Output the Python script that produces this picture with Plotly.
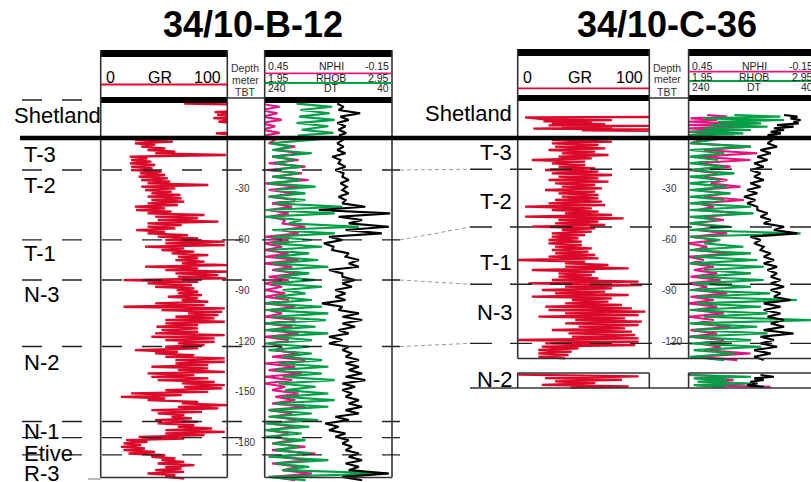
import plotly.graph_objects as go

FIG_W, FIG_H = 811, 482

# ------------------------------------------------------------------ depth frame
# depth in metres TBT, 0 = top T-3 (datum); window shown over the full page height
DEPTH_WINDOW = (-203.2, 81.5)

# ------------------------------------------------------------------ well 34/10-B-12
W1_NAME = "34/10-B-12"
W1_TOP_NAMES = ["Shetland", "T-3", "T-2", "T-1", "N-3", "N-2", "N-1", "Etive", "R-3"]
W1_TOP_DEPTHS = [22.4, 0.0, -18.9, -60.2, -83.9, -123.2, -167.5, -177.0, -187.2]
W1_DEPTH_TICKS = [-30, -60, -90, -120, -150, -180]

# GR (API) in the Shetland interval, explicit depths
W1_GR_SHET_DEPTH = [20.3, 19.8, 16.0, 15.3, 14.7, 13.6, 12.9, 11.7, 10.9, 9.6, 8.6, 3.3, 2.7, 2.0, 0.6]
W1_GR_SHET = [66, 106, 106, 90, 106, 92, 106, 89, 106, 93, 106, 106, 91, 106, 106]

# GR below the datum: low / high edge of the trace every 1.97 m from -1.18 m
W1_GR_START, W1_GR_STEP = -1.18, -1.97
W1_GR_LO = [27, 27, 32, 37, 43, 23, 24, 23, 24, 24,
            31, 30, 32, 37, 32, 35, 40, 37, 40, 37,
            27, 28, 37, 43, 45, 37, 37, 28, 37, 45,
            51, 51, 35, 48, 56, 61, 59, 64, 35, 51,
            59, 61, 18, 37, 43, 60, 61, 53, 64, 43,
            18, 48, 69, 59, 51, 51, 44, 48, 43, 40,
            51, 61, 51, 27, 43, 51, 59, 59, 40, 61,
            37, 40, 45, 64, 66, 51, 24, 16, 37, 64,
            61, 40, 45, 56, 43, 45, 61, 51, 51, 30,
            20, 18, 16, 18, 22, 40, 48, 45, 51, 43,
            37, 51]
W1_GR_HI = [57, 43, 51, 59, 99, 37, 40, 43, 41, 48,
            51, 53, 55, 85, 59, 56, 63, 64, 66, 61,
            51, 56, 82, 77, 93, 64, 59, 51, 69, 77,
            98, 98, 66, 74, 85, 77, 82, 100, 77, 100,
            93, 99, 77, 72, 74, 77, 80, 77, 85, 82,
            98, 96, 93, 90, 98, 77, 77, 77, 98, 90,
            90, 82, 77, 61, 74, 98, 98, 85, 85, 98,
            74, 85, 90, 98, 96, 85, 64, 51, 77, 100,
            93, 80, 66, 72, 77, 74, 88, 98, 82, 66,
            37, 32, 35, 43, 51, 59, 66, 74, 64, 66,
            59, 66]

# NPHI (v/v), RHOB (g/cc), DT (us/ft): Shetland samples at explicit depths
W1_SHET_DEPTH = [20.3, 16.5, 12.6, 8.8, 4.9, 1.5]
W1_NPHI_SHET_A = [0.47, 0.47, 0.46, 0.47, 0.46, 0.45]
W1_NPHI_SHET_B = [0.38, 0.39, 0.37, 0.40, 0.38, 0.39]
W1_RHOB_SHET_A = [2.20, 2.23, 2.22, 2.20, 2.24, 2.21]
W1_RHOB_SHET_B = [2.48, 2.46, 2.50, 2.45, 2.49, 2.44]
W1_DT_SHET_A = [126, 124, 121, 126, 124, 123]
W1_DT_SHET_B = [116, 90, 108, 113, 112, 114]

# below the datum, every 3.94 m from -3.15 m (two edges of each trace)
W1_LOG_START, W1_LOG_STEP = -3.15, -3.94
W1_NPHI_A = [.431, .40, .415, .431, .439, .415, .447, .431, .431, .415,
             .431, .431, .368, .368, .447, .45, .45, .447, .45, .415,
             .431, .45, .45, .45, .45, .431, .45, .45, .431, .45,
             .431, .40, .415, .45, .431, .45, .45, .415, .40, .415,
             .431, .415, .431, .431, .40, .415, .415, .384, .415, .368,
             .415]
W1_NPHI_B = [.306, .274, .29, .258, .274, .243, .29, .306, .306, .321,
             .337, .353, .258, .29, .337, .368, .337, .29, .321, .29,
             .337, .368, .353, .337, .306, .368, .306, .321, .29, .337,
             .368, .29, .258, .306, .274, .321, .353, .29, .306, .258,
             .321, .274, .306, .337, .321, .258, .211, .243, .29, .227,
             .306]
W1_RHOB_A = [1.995, 2.01, 2.01, 2.03, 2.01, 2.01, 1.98, 2.03, 1.98, 2.03,
             1.955, 1.95, 2.14, 2.01, 2.01, 2.01, 1.98, 2.03, 2.01, 2.03,
             2.06, 2.01, 2.09, 2.03, 1.955, 1.955, 2.01, 1.955, 1.955, 2.01,
             1.955, 1.98, 2.09, 2.06, 2.03, 2.09, 2.06, 2.11, 2.09, 2.03,
             1.98, 1.98, 1.955, 1.955, 1.955, 2.01, 2.03, 1.98, 2.03, 2.09,
             1.98]
W1_RHOB_B = [2.16, 2.32, 2.19, 2.24, 2.22, 2.24, 2.35, 2.27, 2.27, 2.56,
             2.50, 2.24, 2.69, 2.50, 2.32, 2.40, 2.30, 2.37, 2.45, 2.30,
             2.35, 2.40, 2.27, 2.32, 2.40, 2.45, 2.43, 2.35, 2.45, 2.32,
             2.30, 2.32, 2.40, 2.45, 2.40, 2.50, 2.35, 2.45, 2.50, 2.45,
             2.32, 2.37, 2.30, 2.24, 2.27, 2.22, 2.32, 2.45, 2.30, 2.92,
             2.27]
W1_DT_A = [126, 126, 134, 124, 129, 118, 121, 118, 124, 118,
           155, 124, 108, 113, 139, 147, 134, 113, 108, 139,
           118, 118, 129, 129, 150, 124, 118, 118, 124, 139,
           139, 118, 113, 113, 108, 113, 118, 118, 113, 108,
           113, 129, 145, 139, 129, 118, 113, 108, 113, 108,
           118]
W1_DT_B = [116, 113, 121, 113, 116, 108, 111, 108, 113, 82,
           43, 87, 45, 56, 118, 132, 108, 92, 92, 118,
           98, 103, 113, 113, 118, 92, 87, 98, 108, 118,
           108, 103, 92, 92, 87, 82, 98, 103, 92, 87,
           92, 108, 124, 113, 108, 103, 92, 87, 92, 45,
           87]

# ------------------------------------------------------------------ well 34/10-C-36
W2_NAME = "34/10-C-36"
W2_TOP_NAMES = ["Shetland", "T-3", "T-2", "T-1", "N-3", "N-2"]
W2_TOP_DEPTHS = [None, 0.0, -18.5, -52.6, -86.4, -121.3]
W2_DEPTH_TICKS = [-30, -60, -90, -120]

W2_GR_SHET_DEPTH = [12.4, 12.2, 11.0, 10.6, 9.8, 9.3, 8.7, 8.1, 7.5, 7.1, 6.7, 6.2, 5.5, 5.0, 4.5, 4.2]
W2_GR_SHET = [100, 5.6, 20.8, 71.6, 19.5, 56.3, 25.9, 66.5, 23.4, 100, 33.5, 71.6, 11.9, 100, 48.7, 100]

W2_GR_START, W2_GR_STEP = -1.18, -1.969
W2_GR_LO = [25.9, 25.9, 28.4, 23.4, 33.5, 31, 10.7, 25.9, 31, 20.8,
            25.9, 31, 23.4, 28.4, 33.5, 20.8, 31, 33.5, 28.4, 23.4,
            5.6, 25.9, 36, 5.6, 31, 28.4, 10.7, 33.5, 25.9, 25.9,
            23.4, 23.4, 28.4, 25.9, 28.4, 23.4, 0, 36, 36, 10.7,
            31, 31, 25.9, 8.1, 36, 18.3, 28.4, 10.7, 41.1, 36,
            20.8, 23.4, 36, 15.7, 43.7, 36, 46.2, 25.9, 38.6, 41.1,
            0, 20.8, 18.3, 15.7, 15.7, 15.7]
W2_GR_HI = [71.6, 61.4, 66.5, 58.9, 69, 56.3, 51.3, 51.3, 58.9, 61.4,
            71.6, 61.4, 69, 58.9, 64, 58.9, 61.4, 61.4, 64, 66.5,
            56.3, 61.4, 71.6, 80.5, 61.4, 66.5, 58.9, 56.3, 51.3, 46.2,
            48.7, 48.7, 56.3, 53.8, 58.9, 61.4, 51.3, 69, 84.3, 58.9,
            56.3, 61.4, 91.9, 94.4, 71.6, 66.5, 84.3, 71.6, 69, 79.2,
            86.8, 97, 91.9, 81.7, 94.4, 91.9, 81.7, 86.8, 89.3, 91.9,
            91.9, 89.3, 46.2, 41.1, 38.6, 36]

# isolated N-2 section below the gap
W2_GR_N2_DEPTH = [-139.8, -140.8, -141.8, -142.8, -143.8, -144.8, -145.8, -146.8, -147.5]
W2_GR_N2 = [0.5, 91.9, 20.8, 79.2, 28.4, 58.9, 18.3, 84.3, 40]

W2_SHET_DEPTH = [13.6, 11.6, 9.6, 7.7, 5.7, 3.7, 1.8]
W2_NPHI_SHET_A = [.362, .441, .45, .45, .45, .45, .45]
W2_NPHI_SHET_B = [.268, .315, .158, .127, .284, .315, .346]
W2_RHOB_SHET_A = [2.31, 2.07, 2.18, 2.12, 2.07, 1.96, 1.96]
W2_RHOB_SHET_B = [2.67, 2.70, 2.52, 2.57, 2.44, 2.38, 2.31]
W2_DT_SHET_A = [90, 80, 75, 101, 106, 111, 116]
W2_DT_SHET_B = [69, 64, 67, 75, 90, 95, 101]

W2_LOG_START, W2_LOG_STEP = -3.15, -3.94
W2_NPHI_A = [.441, .378, .409, .425, .45, .378, .346, .409, .378, .409,
             .409, .378, .441, .409, .441, .45, .425, .45, .441, .425,
             .441, .45, .425, .441, .45, .425, .45, .425, .441, .45,
             .409, .378, .409]
W2_NPHI_B = [.158, .127, .158, .252, .315, .268, .205, .284, .189, .331,
             .189, .284, .315, .268, .315, .362, .252, .378, .331, .315,
             .299, .362, .268, .331, .315, .284, .331, .252, .315, .284,
             .299, .158, .221]
W2_RHOB_A = [1.96, 1.96, 1.96, 1.96, 1.96, 1.96, 1.96, 1.96, 1.96, 1.96,
             1.96, 1.96, 1.96, 1.96, 1.96, 2.07, 1.96, 1.99, 1.96, 2.07,
             2.02, 1.99, 1.96, 2.02, 2.02, 1.96, 2.07, 1.96, 1.99, 1.96,
             1.96, 1.99, 1.96]
W2_RHOB_B = [2.44, 2.23, 2.18, 2.23, 2.31, 2.20, 2.25, 2.28, 2.23, 2.44,
             2.46, 2.18, 2.28, 2.83, 2.20, 2.38, 2.44, 2.49, 2.54, 2.44,
             2.54, 2.44, 2.59, 2.80, 2.52, 2.57, 2.91, 2.49, 2.57, 2.44,
             2.52, 2.31, 2.23]
W2_DT_A = [116, 127, 132, 137, 143, 137, 143, 148, 153, 148,
           132, 127, 122, 106, 143, 137, 127, 122, 122, 116,
           111, 111, 111, 106, 122, 122, 116, 111, 122, 127,
           127, 137, 137]
W2_DT_B = [101, 111, 116, 122, 127, 122, 127, 132, 135, 132,
           116, 111, 90, 69, 127, 122, 111, 106, 101, 101,
           95.5, 90, 95.5, 80, 95.5, 95.5, 90, 90, 75, 106,
           101, 111, 122]

W2_N2_DEPTH = [-140.0, -142.0, -144.0, -146.0]
W2_NPHI_N2_A = [.45, .393, .378, .409]
W2_NPHI_N2_B = [.238, .238, .189, .064]
W2_RHOB_N2_A = [1.96, 1.99, 2.02, 1.99]
W2_RHOB_N2_B = [2.44, 2.25, 2.44, 2.23]
W2_DT_N2_A = [127, 137, 143, 148]
W2_DT_N2_B = [106, 122, 132, 122]

# ------------------------------------------------------------------ scales
GR_SCALE = (0, 100)
NPHI_SCALE = (0.45, -0.15)
RHOB_SCALE = (1.95, 2.95)
DT_SCALE = (240, 40)

RED, MAGENTA, GREEN, INK = "#dc0a2a", "#e4157f", "#00a046", "#000000"
BORDER = "#333333"
FONT = "Liberation Sans, Arial, sans-serif"


def px(x):
    return x / FIG_W


def py(y):
    return 1 - y / FIG_H


def sawtooth(start, step, a, b):
    """Interleave the two edges of a trace along a regular depth grid."""
    d, v = [], []
    for i, (va, vb) in enumerate(zip(a, b)):
        di = start + step * i
        d += [di, di + step / 2]
        v += [va, vb]
    return d, v


def sawtooth_at(depths, a, b, half):
    d, v = [], []
    for di, va, vb in zip(depths, a, b):
        d += [di, di + half]
        v += [va, vb]
    return d, v


fig = go.Figure()


def curve(x, y, color, xa, width=2.2):
    fig.add_trace(go.Scatter(x=x, y=y, mode="lines", xaxis=xa, yaxis="y",
                             line=dict(color=color, width=width),
                             hoverinfo="skip", showlegend=False))


# ---- well 1 curves
d, v = sawtooth(W1_GR_START, W1_GR_STEP, W1_GR_LO, W1_GR_HI)
curve(W1_GR_SHET + v, W1_GR_SHET_DEPTH + d, RED, "x", 2.3)

for a_sh, b_sh, a, b, col, xa in [
    (W1_NPHI_SHET_A, W1_NPHI_SHET_B, W1_NPHI_A, W1_NPHI_B, MAGENTA, "x2"),
    (W1_RHOB_SHET_A, W1_RHOB_SHET_B, W1_RHOB_A, W1_RHOB_B, GREEN, "x3"),
    (W1_DT_SHET_A, W1_DT_SHET_B, W1_DT_A, W1_DT_B, INK, "x4"),
]:
    d0, v0 = sawtooth_at(W1_SHET_DEPTH, a_sh, b_sh, -1.9)
    d1, v1 = sawtooth(W1_LOG_START, W1_LOG_STEP, a, b)
    curve(v0 + v1, d0 + d1, col, xa, 2.1)

# ---- well 2 curves
curve(W2_GR_SHET, W2_GR_SHET_DEPTH, RED, "x5", 2.3)
d, v = sawtooth(W2_GR_START, W2_GR_STEP, W2_GR_LO, W2_GR_HI)
curve(v, d, RED, "x5", 2.3)
curve(W2_GR_N2, W2_GR_N2_DEPTH, RED, "x5", 2.3)

for a_sh, b_sh, a, b, a_n2, b_n2, col, xa in [
    (W2_NPHI_SHET_A, W2_NPHI_SHET_B, W2_NPHI_A, W2_NPHI_B, W2_NPHI_N2_A, W2_NPHI_N2_B, MAGENTA, "x6"),
    (W2_RHOB_SHET_A, W2_RHOB_SHET_B, W2_RHOB_A, W2_RHOB_B, W2_RHOB_N2_A, W2_RHOB_N2_B, GREEN, "x7"),
    (W2_DT_SHET_A, W2_DT_SHET_B, W2_DT_A, W2_DT_B, W2_DT_N2_A, W2_DT_N2_B, INK, "x8"),
]:
    d0, v0 = sawtooth_at(W2_SHET_DEPTH, a_sh, b_sh, -1.0)
    d1, v1 = sawtooth(W2_LOG_START, W2_LOG_STEP, a, b)
    curve(v0 + v1, d0 + d1, col, xa, 2.1)
    d2, v2 = sawtooth_at(W2_N2_DEPTH, a_n2, b_n2, -1.0)
    curve(v2, d2, col, xa, 2.1)

# ------------------------------------------------------------------ track geometry (px)
W1_GR_X = (100.7, 227.3)
W1_LOG_X = (264.7, 392.0)
W2_GR_X = (517.7, 649.3)
W2_LOG_X = (688.6, 688.6 + (W1_LOG_X[1] - W1_LOG_X[0]))
W2_VISIBLE = (FIG_W - W2_LOG_X[0]) / (W2_LOG_X[1] - W2_LOG_X[0])


def part(scale, f):
    return [scale[0], scale[0] + (scale[1] - scale[0]) * f]


hidden = dict(visible=False, showgrid=False, zeroline=False, fixedrange=True)
fig.update_layout(
    xaxis=dict(domain=[px(W1_GR_X[0]), px(W1_GR_X[1])], range=list(GR_SCALE), anchor="y", **hidden),
    xaxis2=dict(domain=[px(W1_LOG_X[0]), px(W1_LOG_X[1])], range=list(NPHI_SCALE), anchor="y", **hidden),
    xaxis3=dict(overlaying="x2", range=list(RHOB_SCALE), anchor="y", **hidden),
    xaxis4=dict(overlaying="x2", range=list(DT_SCALE), anchor="y", **hidden),
    xaxis5=dict(domain=[px(W2_GR_X[0]), px(W2_GR_X[1])], range=list(GR_SCALE), anchor="y", **hidden),
    xaxis6=dict(domain=[px(W2_LOG_X[0]), 1.0], range=part(NPHI_SCALE, W2_VISIBLE), anchor="y", **hidden),
    xaxis7=dict(overlaying="x6", range=part(RHOB_SCALE, W2_VISIBLE), anchor="y", **hidden),
    xaxis8=dict(overlaying="x6", range=part(DT_SCALE, W2_VISIBLE), anchor="y", **hidden),
    yaxis=dict(domain=[0, 1], range=list(DEPTH_WINDOW), anchor="x", **hidden),
)

shapes = []


def seg(x0, y0, x1, y1, color=BORDER, width=1.6, dash=None, yref="paper"):
    s = dict(type="line", xref="paper", yref=yref, x0=px(x0), x1=px(x1),
             y0=py(y0) if yref == "paper" else y0,
             y1=py(y1) if yref == "paper" else y1,
             line=dict(color=color, width=width), layer="above")
    if dash:
        s["line"]["dash"] = dash
    shapes.append(s)


def bar(x0, y0, x1, y1, color="#000000"):
    shapes.append(dict(type="rect", xref="paper", yref="paper", x0=px(x0), x1=px(x1),
                       y0=py(y1), y1=py(y0), fillcolor=color, line=dict(width=0), layer="above"))


# ---- well 1 frame
for x0, x1 in (W1_GR_X, W1_LOG_X):
    bar(x0, 50, x1, 57)
    bar(x0, 97, x1, 103)
    seg(x0, 50, x0, 477.5)
    seg(x1, 50, x1, 477.5)
    seg(x0, 477.5, x1, 477.5)
seg(W1_GR_X[1], 98, W1_LOG_X[0], 98)
seg(88, 479, W1_GR_X[0], 479, color="#aaaaaa")
seg(W1_GR_X[0], 84.5, W1_GR_X[1], 84.5, color=RED, width=1.8)
seg(W1_LOG_X[0], 73.3, W1_LOG_X[1], 73.3, color=MAGENTA, width=1.8)
seg(W1_LOG_X[0], 83.0, W1_LOG_X[1], 83.0, color=GREEN, width=1.8)

# ---- well 2 frame
for x0, x1 in (W2_GR_X, (W2_LOG_X[0], FIG_W + 2)):
    bar(x0, 49, x1, 56)
    bar(x0, 95, x1, 101)
    seg(x0, 373, x1, 373)
seg(W2_GR_X[0], 49, W2_GR_X[0], 358.5)
seg(W2_GR_X[1], 49, W2_GR_X[1], 358.5)
seg(W2_LOG_X[0], 49, W2_LOG_X[0], 358.5)
seg(W2_GR_X[0], 358.5, FIG_W, 358.5)
seg(W2_GR_X[1], 98, W2_LOG_X[0], 98)
for x in (W2_GR_X[0], W2_GR_X[1], W2_LOG_X[0]):
    seg(x, 373, x, 388)
seg(470, 388, FIG_W, 388)
seg(W2_GR_X[0], 88.3, W2_GR_X[1], 88.3, color=RED, width=1.8)
seg(W2_LOG_X[0], 71.7, FIG_W, 71.7, color=MAGENTA, width=1.8)
seg(W2_LOG_X[0], 81.0, FIG_W, 81.0, color=GREEN, width=1.8)

# ---- formation tops
LONG_DASH = "20px,20px"
for name, dep in zip(W1_TOP_NAMES, W1_TOP_DEPTHS):
    if name == "Shetland":
        seg(22, dep, 100, dep, color="#222222", width=1.4, dash=LONG_DASH, yref="y")
    elif name != "T-3":
        seg(22, dep, 400, dep, color="#222222", width=1.4, dash=LONG_DASH, yref="y")
for name, dep in zip(W2_TOP_NAMES, W2_TOP_DEPTHS):
    if dep is not None and name != "T-3":
        seg(470, dep, FIG_W, dep, color="#222222", width=1.4, dash="22px,18px", yref="y")

# correlation ties between the wells
for name in ("T-2", "T-1", "N-3", "N-2"):
    d1 = W1_TOP_DEPTHS[W1_TOP_NAMES.index(name)]
    d2 = W2_TOP_DEPTHS[W2_TOP_NAMES.index(name)]
    shapes.append(dict(type="line", xref="paper", yref="y", x0=px(400), x1=px(470), y0=d1, y1=d2,
                       line=dict(color="#9a9a9a", width=1, dash="4px,3px"), layer="above"))

# datum (top T-3) across both wells
seg(20, 0.0, FIG_W, 0.0, color="#000000", width=4.5, yref="y")

fig.update_layout(shapes=shapes)

# ------------------------------------------------------------------ text
ann = []


def text(s, x, y, size, anchor="center", color="#000000", yref="paper", yshift=0):
    ann.append(dict(text=s, x=px(x), y=py(y) if yref == "paper" else y, xref="paper", yref=yref,
                    xanchor=anchor, yanchor="middle", showarrow=False, yshift=yshift,
                    font=dict(family=FONT, size=size, color=color)))


text("<b>%s</b>" % W1_NAME, 253, 24, 36)
text("<b>%s</b>" % W2_NAME, 667, 24, 36)

# log headers
for gx, ty in ((W1_GR_X, 78), (W2_GR_X, 77.5)):
    text("0", gx[0] + 3, ty, 16, "left")
    text("GR", (gx[0] + gx[1]) / 2 - 4, ty, 16)
    text("100", gx[1] - 4, ty, 16, "right")

for cx, rows in ((245, (68, 80, 92)), (667, (68, 79.5, 91.5))):
    for s, ry in zip(("Depth", "meter", "TBT"), rows):
        text(s, cx, ry, 10.5, color="#333333")

for lx, rx, mid, rows in ((W1_LOG_X[0], W1_LOG_X[1], 331, (66.5, 78.0, 88.0)),
                          (W2_LOG_X[0], W2_LOG_X[1], 754, (65.8, 77.0, 87.0))):
    for (lo, nm, hi), ry in zip((("0.45", "NPHI", "-0.15"), ("1.95", "RHOB", "2.95"),
                                 ("240", "DT", "40")), rows):
        text(lo, lx + 1.5, ry, 10.5, "left", "#222222")
        text(nm, mid, ry, 10.5, "center", "#222222")
        text(hi, rx - 1, ry, 10.5, "right", "#222222")

# depth ticks
for t in W1_DEPTH_TICKS:
    text(str(t), 233, t, 10, "left", "#333333", yref="y")
for t in W2_DEPTH_TICKS:
    text(str(t), 660, t, 10, "left", "#333333", yref="y")

# formation names
W1_LABEL_ROWS = [115, 154, 186, 253, 294, 362, 431, 453, 473]
W2_LABEL_ROWS = [113, 152, 201, 262, 312, 379]
for name, row in zip(W1_TOP_NAMES, W1_LABEL_ROWS):
    text(name, 12 if name == "Shetland" else 22, row, 22, "left")
for name, row in zip(W2_TOP_NAMES, W2_LABEL_ROWS):
    text(name, 514, row, 22, "right")

fig.update_layout(
    annotations=ann,
    width=FIG_W, height=FIG_H,
    margin=dict(l=0, r=0, t=0, b=0, pad=0),
    paper_bgcolor="white", plot_bgcolor="rgba(0,0,0,0)",
    showlegend=False,
)

fig.write_html("out.html", config={"displayModeBar": False})
